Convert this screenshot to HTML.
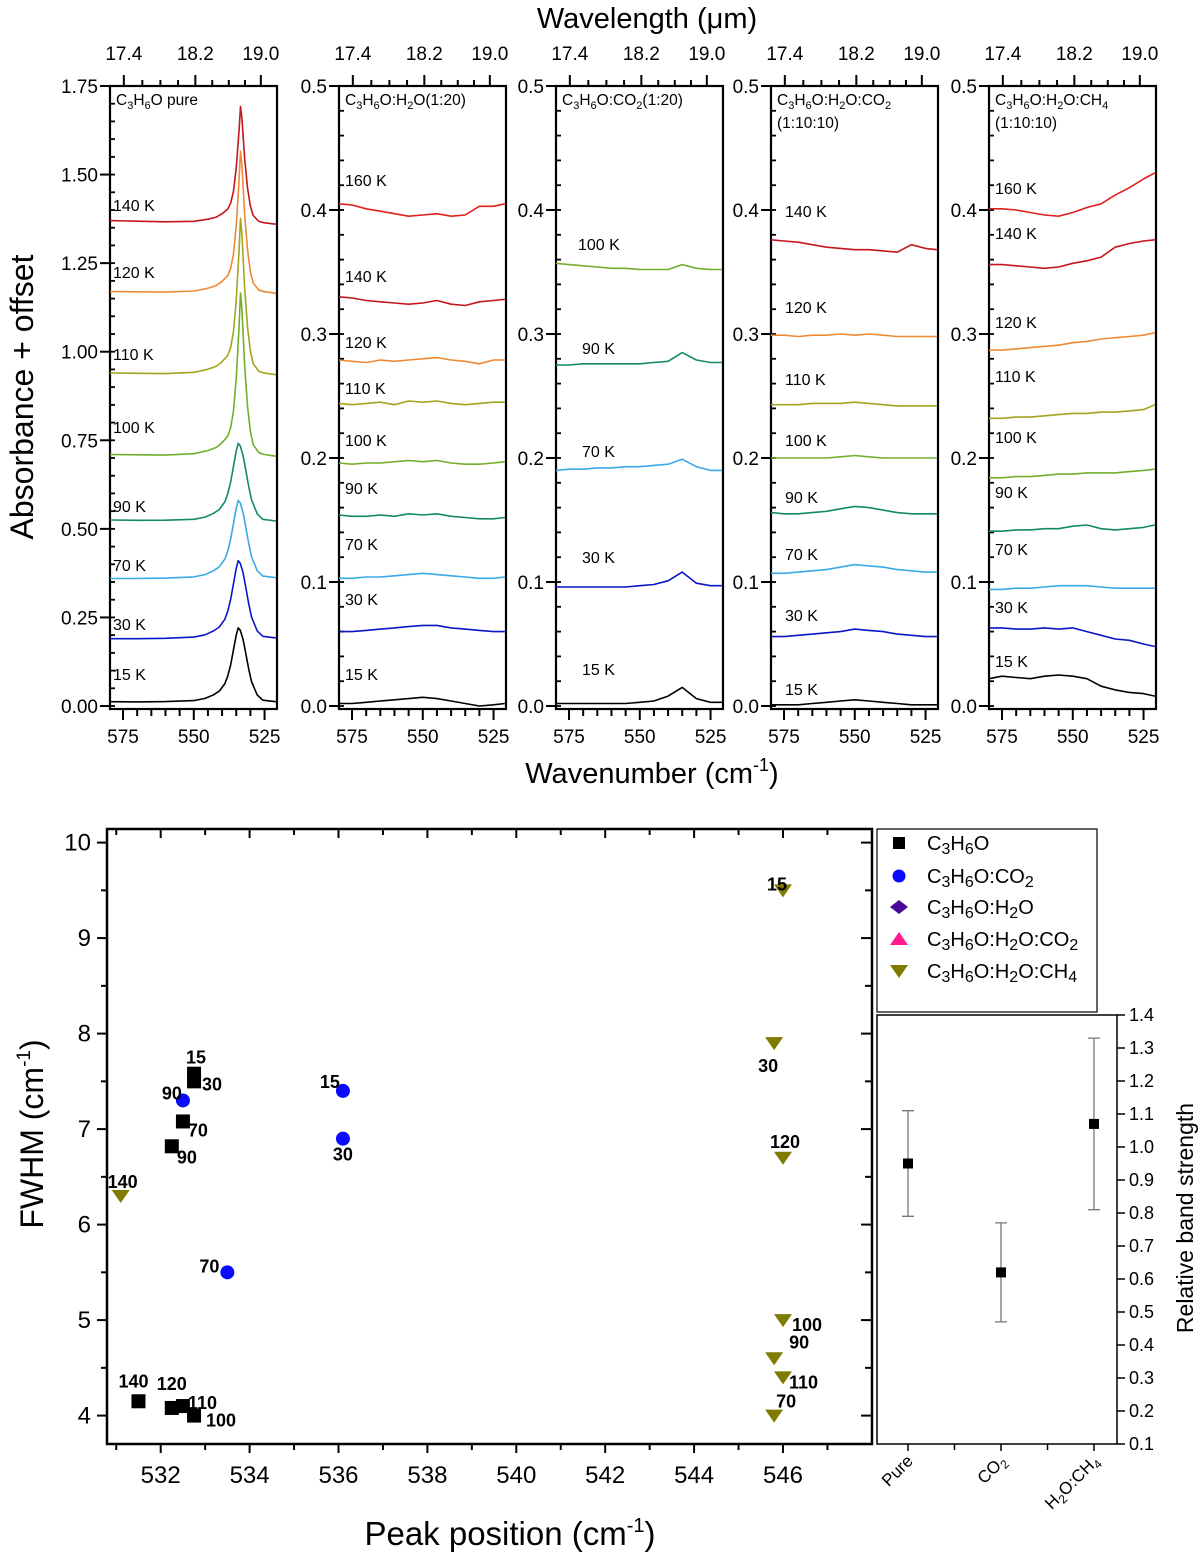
<!DOCTYPE html>
<html><head><meta charset="utf-8">
<style>
html,body{margin:0;padding:0;background:#fff;}
svg{display:block;font-family:"Liberation Sans",Arial,sans-serif;}
</style></head>
<body>
<svg id="fig" width="1200" height="1562" viewBox="0 0 1200 1562" xmlns="http://www.w3.org/2000/svg">
<text x="647" y="28" font-size="29" text-anchor="middle">Wavelength (μm)</text>
<text x="652" y="783" font-size="29" text-anchor="middle">Wavenumber (cm<tspan font-size="18" dy="-12">-1</tspan><tspan dy="12">)</tspan></text>
<text transform="translate(33,397) rotate(-90)" font-size="32" text-anchor="middle">Absorbance + offset</text>
<text transform="translate(43,1134) rotate(-90)" font-size="32" text-anchor="middle">FWHM (cm<tspan font-size="19" dy="-13">-1</tspan><tspan dy="13">)</tspan></text>
<text x="510" y="1545" font-size="33" text-anchor="middle">Peak position (cm<tspan font-size="20" dy="-13">-1</tspan><tspan dy="13">)</tspan></text>
<text transform="translate(1193,1218) rotate(-90)" font-size="23" text-anchor="middle">Relative band strength</text>
<g id="topPanels"></g>
<g id="scat"></g>
<g id="leg"></g>
<g id="inset"></g>
</svg>
<script>
// ---------- DATA: spectra ----------
const pureWideGrid = [580,570,560,550,546,543,541,539,538,537,536,535,534.3,533.6,532.6,531.6,530.6,529.6,527.6,525.6,521];
const pureNarrowGrid = [580,570,560,550,545,542,540,538,537,536,535,534,533.5,533,532,531,530,529,527,525,521];
const wideProfile = [0,0,0.005,0.02,0.05,0.1,0.15,0.25,0.35,0.5,0.7,0.9,1.0,0.97,0.85,0.65,0.45,0.28,0.1,0.03,0.01];
const narrowProfile = [0,0,0,0.01,0.03,0.05,0.08,0.12,0.17,0.27,0.47,0.8,1.0,0.9,0.55,0.3,0.15,0.07,0.02,0.01,0];
const pureTemps = ['15 K','30 K','70 K','90 K','100 K','110 K','120 K','140 K'];
const pureBaseLeft = [0.012,0.19,0.36,0.525,0.71,0.94,1.17,1.37];
const pureBaseRight = [0.01,0.19,0.36,0.52,0.705,0.935,1.165,1.36];
const pureHeights = [0.21,0.22,0.22,0.22,0.46,0.44,0.40,0.33];
const pureShape = ['wide','wide','wide','wide','narrow','narrow','narrow','narrow'];
const pureLabelY = [675,625,566,507,428,355,273,206];

const wnGrid = [580,575,570,565,560,555,550,545,540,535,530,525,521];

const h2oTemps = ['160 K','140 K','120 K','110 K','100 K','90 K','70 K','30 K','15 K'];
const h2oSeries = [
 [0.405,0.404,0.401,0.399,0.397,0.395,0.396,0.397,0.395,0.396,0.403,0.403,0.405],
 [0.330,0.329,0.327,0.326,0.325,0.324,0.325,0.327,0.324,0.323,0.326,0.327,0.328],
 [0.279,0.278,0.277,0.279,0.278,0.279,0.280,0.281,0.279,0.278,0.276,0.279,0.279],
 [0.244,0.243,0.244,0.245,0.243,0.246,0.245,0.246,0.244,0.243,0.244,0.245,0.245],
 [0.196,0.195,0.196,0.196,0.197,0.198,0.197,0.198,0.196,0.195,0.195,0.196,0.197],
 [0.154,0.153,0.153,0.154,0.153,0.155,0.154,0.155,0.153,0.152,0.151,0.151,0.152],
 [0.103,0.103,0.104,0.104,0.105,0.106,0.107,0.106,0.105,0.104,0.103,0.103,0.104],
 [0.060,0.060,0.061,0.062,0.063,0.064,0.065,0.065,0.063,0.062,0.061,0.060,0.060],
 [0.002,0.002,0.003,0.004,0.005,0.006,0.007,0.006,0.004,0.002,0.000,0.001,0.002]];
const h2oLabelY = [181,277,343,389,441,489,545,600,675];

const co2Temps = ['100 K','90 K','70 K','30 K','15 K'];
const co2Series = [
 [0.357,0.356,0.355,0.354,0.353,0.353,0.352,0.352,0.352,0.356,0.353,0.352,0.352],
 [0.275,0.275,0.276,0.276,0.276,0.276,0.276,0.277,0.278,0.285,0.279,0.277,0.277],
 [0.190,0.191,0.191,0.192,0.192,0.193,0.193,0.194,0.195,0.199,0.193,0.190,0.190],
 [0.096,0.096,0.096,0.096,0.096,0.096,0.097,0.098,0.101,0.108,0.099,0.097,0.097],
 [0.002,0.002,0.002,0.002,0.002,0.002,0.003,0.004,0.008,0.015,0.006,0.003,0.003]];
const co2LabelY = [245,349,452,558,670];

const h2oco2Temps = ['140 K','120 K','110 K','100 K','90 K','70 K','30 K','15 K'];
const h2oco2Series = [
 [0.376,0.375,0.374,0.372,0.370,0.369,0.368,0.368,0.367,0.366,0.372,0.369,0.368],
 [0.299,0.299,0.298,0.299,0.299,0.300,0.299,0.300,0.299,0.298,0.298,0.298,0.298],
 [0.243,0.243,0.243,0.244,0.244,0.244,0.245,0.244,0.243,0.242,0.242,0.242,0.242],
 [0.200,0.200,0.200,0.200,0.200,0.201,0.202,0.201,0.200,0.200,0.200,0.200,0.200],
 [0.156,0.155,0.155,0.156,0.157,0.159,0.161,0.160,0.158,0.156,0.155,0.155,0.155],
 [0.107,0.107,0.108,0.109,0.110,0.112,0.114,0.113,0.112,0.110,0.109,0.108,0.108],
 [0.056,0.056,0.057,0.058,0.059,0.060,0.062,0.061,0.060,0.058,0.057,0.056,0.056],
 [0.001,0.001,0.001,0.002,0.003,0.004,0.005,0.004,0.003,0.002,0.001,0.001,0.001]];
const h2oco2LabelY = [212,308,380,441,498,555,616,690];

const ch4Temps = ['160 K','140 K','120 K','110 K','100 K','90 K','70 K','30 K','15 K'];
const ch4Series = [
 [0.401,0.401,0.400,0.398,0.396,0.395,0.398,0.402,0.405,0.412,0.418,0.425,0.430],
 [0.356,0.356,0.355,0.354,0.353,0.354,0.357,0.359,0.362,0.370,0.373,0.375,0.376],
 [0.287,0.287,0.288,0.289,0.290,0.291,0.293,0.294,0.296,0.297,0.298,0.299,0.301],
 [0.232,0.232,0.233,0.233,0.234,0.235,0.236,0.236,0.237,0.237,0.238,0.239,0.243],
 [0.184,0.184,0.185,0.185,0.186,0.187,0.187,0.188,0.188,0.188,0.189,0.190,0.191],
 [0.141,0.141,0.142,0.142,0.143,0.143,0.145,0.146,0.143,0.142,0.143,0.144,0.146],
 [0.094,0.094,0.095,0.095,0.096,0.097,0.097,0.097,0.096,0.095,0.095,0.095,0.095],
 [0.063,0.063,0.062,0.062,0.063,0.062,0.063,0.060,0.057,0.054,0.053,0.050,0.048],
 [0.022,0.024,0.023,0.022,0.024,0.025,0.024,0.022,0.016,0.013,0.011,0.010,0.008]];
const ch4LabelY = [189,234,323,377,438,493,550,608,662];

const wnTicks = [575,550,525];
const wlTicks = [17.4,18.2,19.0];
const pureYTicks = [0,0.25,0.5,0.75,1.0,1.25,1.5,1.75];
const mixYTicks = [0,0.1,0.2,0.3,0.4,0.5];

// ---------- DATA: scatter ----------
const pureX = [532.75,532.75,532.5,532.25,531.5,532.25,532.5,532.75];
const pureY = [7.58,7.5,7.08,6.82,4.15,4.08,4.1,4.0];
const pureLbl = ['15','30','70','90','140','120','110','100'];
const co2X = [536.1,536.1,532.5,533.5];
const co2Y = [7.4,6.9,7.3,5.5];
const co2Lbl = ['15','30','90','70'];
const ch4X = [531.1,546.0,545.8,546.0,546.0,545.8,546.0,545.8];
const ch4Y = [6.3,9.5,7.9,6.7,5.0,4.6,4.4,4.0];
const ch4Lbl = ['140','15','30','120','100','90','110','70'];
const scatXTicks = [532,534,536,538,540,542,544,546];
const scatYTicks = [4,5,6,7,8,9,10];

// ---------- DATA: inset ----------
const insetCats = ['Pure','CO2','H2O:CH4'];
const insetVals = [0.95,0.62,1.07];
const insetLo = [0.79,0.47,0.81];
const insetHi = [1.11,0.77,1.33];
const insetTicks = [0.1,0.2,0.3,0.4,0.5,0.6,0.7,0.8,0.9,1.0,1.1,1.2,1.3,1.4];

// ---------- helpers ----------
const NS='http://www.w3.org/2000/svg';
function mk(tag, attrs, parent){const e=document.createElementNS(NS,tag);for(const k in attrs)e.setAttribute(k,attrs[k]);parent.appendChild(e);return e;}
const colorOf = {'15 K':'#000000','30 K':'#0b16c6','70 K':'#3aaae6','90 K':'#128a68','100 K':'#72ae2c','110 K':'#a3a51f','120 K':'#ee8a36','140 K':'#c4161d','160 K':'#e0201c'};

const topG = document.getElementById('topPanels');
const PW=167, PT=86, PB=709, Y0=706, WL=579.6, WR=520.6;
const panelLeft=[110,339,556,771,989];
const panelMax=[1.75,0.5,0.5,0.5,0.5];
function xw(p,wn){return panelLeft[p]+(WL-wn)*PW/(WL-WR);}
function yv(p,v){return Y0-v*(Y0-PT)/panelMax[p];}

function drawPanel(p, yTicks, fmt, title1, title2){
  const g=mk('g',{},topG);
  
  
  const L=panelLeft[p];
  const fr=mk('rect',{x:L,y:PT,width:PW,height:PB-PT,fill:'none',stroke:'#000','stroke-width':2.2},g);
  
  
  yTicks.forEach(v=>{
    const y=yv(p,v);
    const t=mk('line',{x1:L-10,x2:L,y1:y,y2:y,stroke:'#000','stroke-width':2},g);
    
    
    const lb=mk('text',{x:L-12,y:y+7,'font-size':19,'text-anchor':'end'},g);
    lb.textContent=fmt(v);
    
    
  });
  const step = p===0?0.05:0.02;
  for(let v=0; v<panelMax[p]+1e-9; v+=step){
    const y=yv(p,v);
    const t=mk('line',{x1:L,x2:L+5,y1:y,y2:y,stroke:'#000','stroke-width':1.8},g);
    
    
  }
  for(let wn=575; wn>=521; wn-=5){
    const x=xw(p,wn); const major=wnTicks.includes(wn);
    const t=mk('line',{x1:x,x2:x,y1:PB,y2:PB+(major?11:7),stroke:'#000','stroke-width':2},g);
    
    
    if(major){
      const lb=mk('text',{x:x,y:PB+34,'font-size':19,'text-anchor':'middle'},g);
      lb.textContent=String(wn);
      
      
    }
  }
  for(let k=0; k<=8; k++){
    const wl=17.4+0.2*k;
    const x=xw(p,1e4/wl); const major=wlTicks.some(w=>Math.abs(w-wl)<1e-6);
    if(x>L+PW) continue;
    const t=mk('line',{x1:x,x2:x,y1:PT,y2:PT-(major?11:6),stroke:'#000','stroke-width':2},g);
    
    
    if(major){
      const lb=mk('text',{x:x,y:PT-26,'font-size':19,'text-anchor':'middle'},g);
      lb.textContent=wl.toFixed(1);
      
      
    }
  }
  const tt=mk('text',{x:L+6,y:PT+19,'font-size':15.5},g);
  tt.innerHTML=title1;
  
  
  if(title2){
    const t2=mk('text',{x:L+6,y:PT+42,'font-size':15.5},g);
    t2.textContent=title2;
    
    
  }
  return g;
}
function drawCurve(g,p,grid,vals,temp){
  const pts=grid.map((wn,i)=>xw(p,Math.max(WR,Math.min(WL,wn))).toFixed(1)+','+yv(p,vals[i]).toFixed(1)).join(' ');
  const pl=mk('polyline',{points:pts,fill:'none',stroke:colorOf[temp],'stroke-width':1.6,'stroke-linejoin':'round'},g);
  
  
}
function drawLabel(g,x,y,txt){
  const t=mk('text',{x:x,y:y,'font-size':16},g);
  t.textContent=txt;
  
  
}
const sub=(s)=>'<tspan font-size="11" dy="4">'+s+'</tspan><tspan dy="-4">';
const C3H6O='C'+sub('3')+'H</tspan>'+sub('6')+'O</tspan>';

let g=drawPanel(0,pureYTicks,v=>v.toFixed(2),C3H6O+' pure');
pureTemps.forEach((t,i)=>{
  const grid = pureShape[i]==='wide'?pureWideGrid:pureNarrowGrid;
  const prof = pureShape[i]==='wide'?wideProfile:narrowProfile;
  const vals = grid.map((wn,j)=>pureBaseLeft[i]+(pureBaseRight[i]-pureBaseLeft[i])*(580-wn)/59+pureHeights[i]*prof[j]);
  drawCurve(g,0,grid,vals,t);
  drawLabel(g,113,pureLabelY[i]+5,t);
});
g=drawPanel(1,mixYTicks,v=>v.toFixed(1),C3H6O+':H'+sub('2')+'O(1:20)</tspan>');
h2oTemps.forEach((t,i)=>{drawCurve(g,1,wnGrid,h2oSeries[i],t);drawLabel(g,345,h2oLabelY[i]+5,t);});
g=drawPanel(2,mixYTicks,v=>v.toFixed(1),C3H6O+':CO'+sub('2')+'(1:20)</tspan>');
co2Temps.forEach((t,i)=>{drawCurve(g,2,wnGrid,co2Series[i],t);drawLabel(g,i===0?578:582,co2LabelY[i]+5,t);});
g=drawPanel(3,mixYTicks,v=>v.toFixed(1),C3H6O+':H'+sub('2')+'O:CO</tspan>'+sub('2')+'</tspan>','(1:10:10)');
h2oco2Temps.forEach((t,i)=>{drawCurve(g,3,wnGrid,h2oco2Series[i],t);drawLabel(g,785,h2oco2LabelY[i]+5,t);});
g=drawPanel(4,mixYTicks,v=>v.toFixed(1),C3H6O+':H'+sub('2')+'O:CH</tspan>'+sub('4')+'</tspan>','(1:10:10)');
ch4Temps.forEach((t,i)=>{drawCurve(g,4,wnGrid,ch4Series[i],t);drawLabel(g,995,ch4LabelY[i]+5,t);});

// ---------- scatter ----------
const sc=document.getElementById('scat');
const SL=107,SR=872,ST=829,SB=1444;
function xs(v){return 160.7+(v-532)*44.45;}
function ys(v){return 842.6+(10-v)*95.5;}
let sfr=mk('rect',{x:SL,y:ST,width:SR-SL,height:SB-ST,fill:'none',stroke:'#000','stroke-width':2.5},sc);


for(let v=531; v<=547; v++){
  const x=xs(v); const major=scatXTicks.includes(v);
  const t=mk('line',{x1:x,x2:x,y1:SB,y2:SB+(major?9:6),stroke:'#000','stroke-width':2},sc);
  
  
  const t2=mk('line',{x1:x,x2:x,y1:ST,y2:ST+(major?9:6),stroke:'#000','stroke-width':2},sc);
  
  
  if(major){
    const lb=mk('text',{x:x,y:SB+39,'font-size':24,'text-anchor':'middle'},sc);
    lb.textContent=String(v);
    
    
  }
}
for(let k=0; k<=12; k++){
  const v=4+0.5*k;
  const y=ys(v); const major=(k%2===0);
  const t=mk('line',{x1:SL-(major?10:6),x2:SL,y1:y,y2:y,stroke:'#000','stroke-width':2},sc);
  
  
  const t2=mk('line',{x1:SR-(major?11:7),x2:SR,y1:y,y2:y,stroke:'#000','stroke-width':2},sc);
  
  
  if(major){
    const lb=mk('text',{x:SL-16,y:y+8,'font-size':24,'text-anchor':'end'},sc);
    lb.textContent=String(Math.round(v));
    
    
  }
}
const pureOff=[[2,-16,'middle'],[8,3,'start'],[5,9,'start'],[5,11,'start'],[-5,-20,'middle'],[0,-24,'middle'],[5,-3,'start'],[12,5,'start']];
const co2Off=[[-13,-9,'middle'],[0,16,'middle'],[-11,-7,'middle'],[-18,-6,'middle']];
const ch4Off=[[2,-14,'middle'],[-6,-6,'middle'],[-6,23,'middle'],[2,-16,'middle'],[9,5,'start'],[15,-16,'start'],[6,5,'start'],[12,-14,'middle']];
function ptLabel(x,y,txt,off){
  const t=mk('text',{x:x+off[0],y:y+off[1]+6,'font-size':18,'font-weight':'bold','text-anchor':off[2]},sc);
  t.textContent=txt;
  
  
}
pureX.forEach((v,i)=>{
  const x=xs(v),y=ys(pureY[i]);
  const m=mk('rect',{x:x-7,y:y-7,width:14,height:14,fill:'#000'},sc);
  
  
  ptLabel(x,y,pureLbl[i],pureOff[i]);
});
co2X.forEach((v,i)=>{
  const x=xs(v),y=ys(co2Y[i]);
  const m=mk('circle',{cx:x,cy:y,r:7,fill:'#0a0aff'},sc);
  
  
  ptLabel(x,y,co2Lbl[i],co2Off[i]);
});
ch4X.forEach((v,i)=>{
  const x=xs(v),y=ys(ch4Y[i]);
  const m=mk('polygon',{points:(x-9)+','+(y-6)+' '+(x+9)+','+(y-6)+' '+x+','+(y+7),fill:'#7f7a00'},sc);
  
  
  ptLabel(x,y,ch4Lbl[i],ch4Off[i]);
});

// ---------- legend ----------
const lg=document.getElementById('leg');
const lbox=mk('rect',{x:877,y:829,width:220,height:183,fill:'#fff',stroke:'#000','stroke-width':1.2},lg);


const lsub=(s)=>'<tspan font-size="16" dy="4">'+s+'</tspan><tspan dy="-4">';
const LC='C'+lsub('3')+'H</tspan>'+lsub('6')+'O</tspan>';
const legNames=[LC, LC+':CO'+lsub('2')+'</tspan>', LC+':H'+lsub('2')+'O</tspan>', LC+':H'+lsub('2')+'O:CO</tspan>'+lsub('2')+'</tspan>', LC+':H'+lsub('2')+'O:CH</tspan>'+lsub('4')+'</tspan>'];
const legY=[843,876,907,939,971];
legY.forEach((y,i)=>{
  let m;
  if(i===0) m=mk('rect',{x:893,y:y-6,width:12,height:12,fill:'#000'},lg);
  if(i===1) m=mk('circle',{cx:899,cy:y,r:6.5,fill:'#0a0aff'},lg);
  if(i===2) m=mk('polygon',{points:'890,'+y+' 899,'+(y-7)+' 908,'+y+' 899,'+(y+7),fill:'#4b0a96'},lg);
  if(i===3) m=mk('polygon',{points:'890,'+(y+6)+' 908,'+(y+6)+' 899,'+(y-7),fill:'#ff1a8c'},lg);
  if(i===4) m=mk('polygon',{points:'890,'+(y-6)+' 908,'+(y-6)+' 899,'+(y+7),fill:'#7f7a00'},lg);
  
  
  const t=mk('text',{x:927,y:y+7,'font-size':20},lg);
  t.innerHTML=legNames[i];
  
  
});

// ---------- inset ----------
const ins=document.getElementById('inset');
const IL=877,IR=1117,IT=1015,IB=1444;
function yi(v){return IT+(1.4-v)*(IB-IT)/1.3;}
const catX=[908,1001,1094];
const ifr=mk('rect',{x:IL,y:IT,width:IR-IL,height:IB-IT,fill:'#fff',stroke:'#000','stroke-width':1.5},ins);


insetTicks.forEach(v=>{
  const y=yi(v);
  const t=mk('line',{x1:IR,x2:IR+8,y1:y,y2:y,stroke:'#000','stroke-width':1.5},ins);
  
  
  const l=mk('text',{x:IR+12,y:y+6,'font-size':18},ins);
  l.textContent=v.toFixed(1);
  
  
});
[954.5,1047.5].forEach(x=>{
  const t=mk('line',{x1:x,x2:x,y1:IB,y2:IB+6,stroke:'#000','stroke-width':1.5},ins);
  
  
});
insetCats.forEach((c,i)=>{
  const x=catX[i];
  const t=mk('line',{x1:x,x2:x,y1:IB,y2:IB+7,stroke:'#000','stroke-width':1.5},ins);
  
  
  const eb=mk('path',{d:'M'+x+','+yi(insetHi[i])+'V'+yi(insetLo[i])+'M'+(x-6)+','+yi(insetHi[i])+'H'+(x+6)+'M'+(x-6)+','+yi(insetLo[i])+'H'+(x+6),stroke:'#777','stroke-width':1.3,fill:'none'},ins);
  
  
  const m=mk('rect',{x:x-5,y:yi(insetVals[i])-5,width:10,height:10,fill:'#000'},ins);
  
  
  const l=mk('text',{transform:'translate('+(x+6)+','+(IB+18)+') rotate(-45)','font-size':17,'text-anchor':'end'},ins);
  if(c==='CO2') l.innerHTML='CO<tspan font-size="12" dy="4">2</tspan>';
  else if(c==='H2O:CH4') l.innerHTML='H<tspan font-size="12" dy="4">2</tspan><tspan dy="-4">O:CH</tspan><tspan font-size="12" dy="4">4</tspan>';
  else l.textContent=c;
  
  
});
</script>
</body></html>
